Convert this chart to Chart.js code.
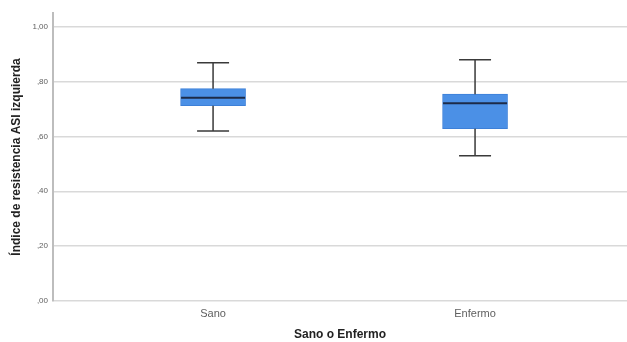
<!DOCTYPE html>
<html>
<head>
<meta charset="utf-8">
<script src="https://cdn.jsdelivr.net/npm/chart.js@4.4.0/dist/chart.umd.min.js"></script>
<style>
  html, body { margin: 0; padding: 0; background: #ffffff; }
  #wrap { width: 627px; height: 342px; position: relative; }
</style>
</head>
<body>
<div id="wrap"><canvas id="c" width="627" height="342"></canvas></div>
<script>
const categories = ['Sano', 'Enfermo'];
const minVals = [0.620, 0.530];
const q1Vals = [0.712, 0.628];
const medianVals = [0.741, 0.721];
const q3Vals = [0.774, 0.754];
const maxVals = [0.869, 0.880];
const yTicks = [0, 0.2, 0.4, 0.6, 0.8, 1.0];
const yTickLabels = [',00', ',20', ',40', ',60', ',80', '1,00'];

const boxData = categories.map((c, i) => ({ x: i, y: [q1Vals[i], q3Vals[i]] }));

const whiskerPlugin = {
  id: 'whiskers',
  afterDatasetsDraw(chart) {
    const ctx = chart.ctx;
    const xs = chart.scales.x, ys = chart.scales.y;
    ctx.save();
    categories.forEach((c, i) => {
      const cx = xs.getPixelForValue(i);
      const yMin = ys.getPixelForValue(minVals[i]);
      const yQ1 = ys.getPixelForValue(q1Vals[i]);
      const yQ3 = ys.getPixelForValue(q3Vals[i]);
      const yMax = ys.getPixelForValue(maxVals[i]);
      const yMed = ys.getPixelForValue(medianVals[i]);
      ctx.strokeStyle = '#3a3a3a';
      ctx.lineWidth = 1.5;
      ctx.beginPath();
      ctx.moveTo(cx, yQ1); ctx.lineTo(cx, yMin);
      ctx.moveTo(cx, yQ3); ctx.lineTo(cx, yMax);
      ctx.moveTo(cx - 16, yMin); ctx.lineTo(cx + 16, yMin);
      ctx.moveTo(cx - 16, yMax); ctx.lineTo(cx + 16, yMax);
      ctx.stroke();
      ctx.strokeStyle = '#1c2b48';
      ctx.lineWidth = 2;
      ctx.beginPath();
      ctx.moveTo(cx - 32, yMed); ctx.lineTo(cx + 32, yMed);
      ctx.stroke();
    });
    ctx.restore();
  }
};

new Chart(document.getElementById('c'), {
  type: 'bar',
  data: {
    datasets: [{
      data: boxData,
      backgroundColor: '#4b90e6',
      borderColor: '#3d80d8',
      borderWidth: 1,
      borderSkipped: false,
      barThickness: 65
    }]
  },
  options: {
    responsive: false,
    animation: false,
    devicePixelRatio: 1,
    layout: { padding: { left: 5, top: 13, right: 0, bottom: 0 } },
    plugins: { legend: { display: false }, tooltip: { enabled: false } },
    scales: {
      x: {
        type: 'linear',
        offset: false,
        min: -0.611,
        max: 1.580,
        afterBuildTicks(axis) { axis.ticks = categories.map((c, i) => ({ value: i })); },
        afterFit(axis) { axis.height = 41; },
        grid: { display: false, drawTicks: false, offset: false },
        border: { display: false },
        ticks: {
          padding: 6,
          color: '#606060',
          font: { family: 'Liberation Sans', size: 11 },
          callback: (v) => categories[v] !== undefined ? categories[v] : ''
        },
        title: {
          display: true,
          text: 'Sano o Enfermo',
          color: '#222222',
          font: { family: 'Liberation Sans', size: 12, weight: 'bold' },
          padding: { top: 0, bottom: 0 }
        }
      },
      y: {
        min: 0,
        max: 1.05,
        afterBuildTicks(axis) { axis.ticks = yTicks.map(v => ({ value: v })); },
        afterFit(axis) { axis.width = 48; },
        grid: { color: '#d9d9d9', lineWidth: 1.5, drawTicks: false },
        border: { display: true, color: '#bdbdbd', width: 2 },
        ticks: {
          padding: 5,
          color: '#606060',
          font: { family: 'Liberation Sans', size: 8 },
          callback: (v) => { const k = yTicks.findIndex(t => Math.abs(t - v) < 1e-9); return k >= 0 ? yTickLabels[k] : ''; }
        },
        title: {
          display: true,
          text: 'Índice de resistencia ASI izquierda',
          color: '#222222',
          font: { family: 'Liberation Sans', size: 12, weight: 'bold' },
          padding: { top: 4, bottom: 0 }
        }
      }
    }
  },
  plugins: [whiskerPlugin]
});
</script>
</body>
</html>
